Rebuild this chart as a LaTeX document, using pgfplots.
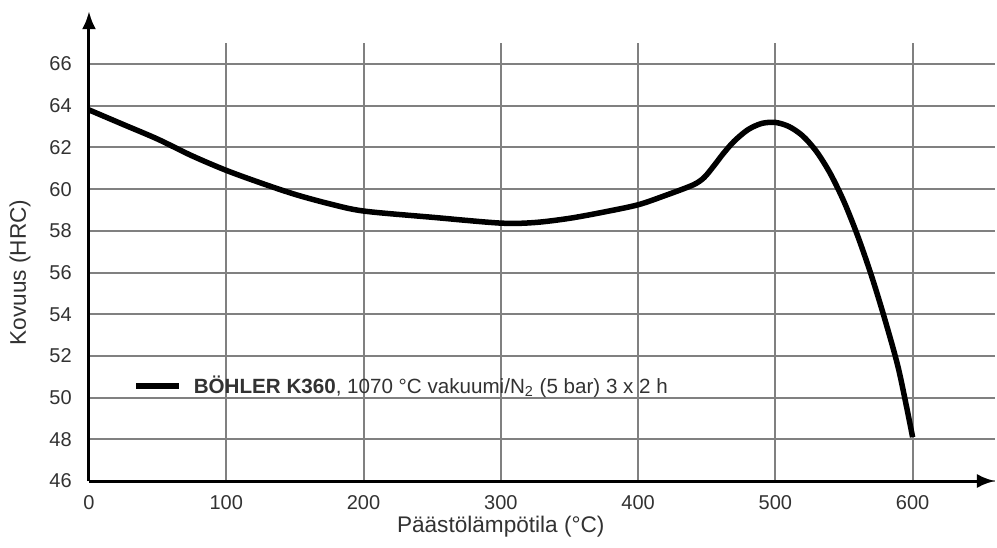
\documentclass[border=0pt]{standalone}
\usepackage{fontspec}
\setmainfont{Liberation Sans}
\usepackage{pgfplots}
\pgfplotsset{compat=1.18}
\usetikzlibrary{arrows.meta}
\definecolor{gridgray}{RGB}{128,128,128}
\definecolor{txt}{RGB}{50,50,50}
\begin{document}
\begin{tikzpicture}
\begin{axis}[
  at={(0,0)}, anchor=south west,
  scale only axis, width=453pt, height=218.9pt,
  xmin=0, xmax=660, ymin=46, ymax=67,
  axis lines=left,
  axis line style={line width=1.5pt, -{Latex[length=9pt,width=7pt]}},
  y axis line style={shorten >=-16pt},
  xtick={0,100,...,600}, ytick={46,48,...,66},
  grid=major, major grid style={gridgray, line width=1pt},
  tick style={draw=none},
  /pgf/number format/assume math mode=true,
  ticklabel style={font=\fontsize{10}{11}\selectfont, text=txt},
  yticklabel style={xshift=-3pt},
  xticklabel style={yshift=-1.5pt},
  every axis x label/.style={at={(axis description cs:0.4545,0)}, yshift=-23pt, anchor=center, font=\fontsize{11.3}{13}\selectfont, text=txt},
  every axis y label/.style={at={(axis description cs:0,0.476)}, xshift=-34.5pt, rotate=90, anchor=center, font=\fontsize{11.3}{13}\selectfont, text=txt},
  xlabel={Päästölämpötila (°C)},
  ylabel={Kovuus (HRC)},
  legend style={at={(axis cs:32,50.56)}, anchor=west, draw=none, fill=none, inner sep=0pt, font=\fontsize{10.3}{11}\selectfont, text=txt, /tikz/every odd column/.append style={column sep=4pt}},
  legend cell align=left,
  legend image code/.code={\draw[line width=2.75pt, black] (0pt,0pt) -- (21.5pt,0pt);},
]
\addplot[line width=2.75pt, black, smooth, tension=0.5] coordinates {
(0,63.8) (25,63.1) (50,62.4) (75,61.6) (100,60.9) (125,60.3) (150,59.75)
(175,59.3) (200,58.95) (250,58.65) (300,58.37) (325,58.4) (350,58.6)
(375,58.9) (400,59.25) (420,59.7) (440,60.2) (448,60.55) (455,61.1)
(462,61.7) (470,62.3) (480,62.85) (490,63.15) (500,63.2) (510,63.0)
(520,62.55) (530,61.8) (540,60.75) (550,59.4) (560,57.75) (570,55.85)
(580,53.7) (590,51.3) (600,48.1)
};
\addlegendentry{\textbf{BÖHLER K360}, 1070 °C vakuumi/N\textsubscript{2} (5 bar) 3 x 2 h}
\end{axis}
\pgfresetboundingbox
\path[use as bounding box] (-44.5pt,-33pt) rectangle (454pt,240.5pt);
\end{tikzpicture}
\end{document}
